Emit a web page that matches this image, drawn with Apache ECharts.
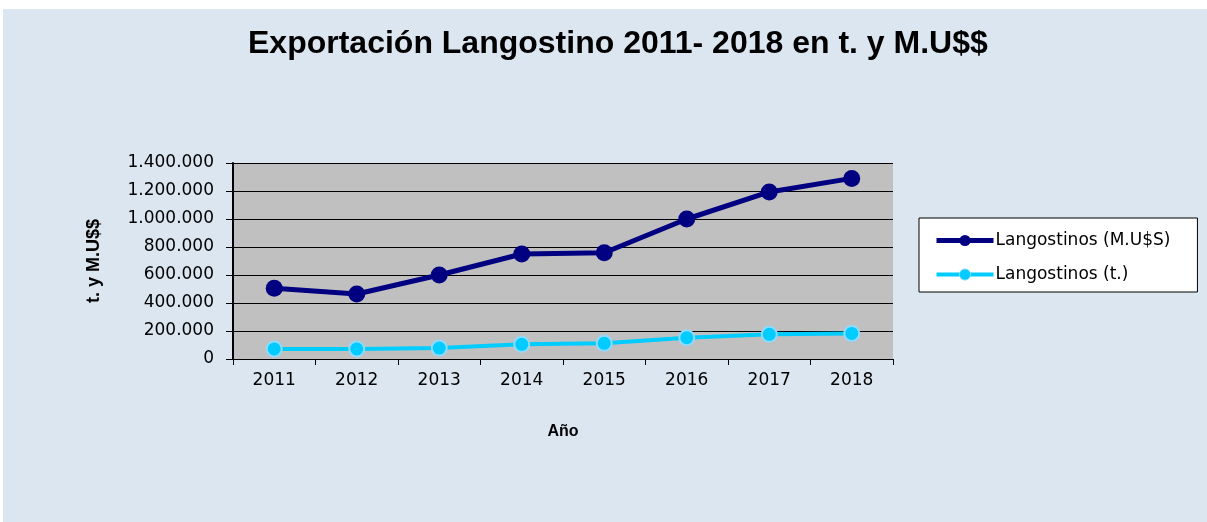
<!DOCTYPE html>
<html>
<head>
<meta charset="utf-8">
<script src="https://cdn.jsdelivr.net/npm/echarts@6/dist/echarts.min.js"></script>
<style>
html,body{margin:0;padding:0;background:#ffffff;}
#chart{position:absolute;left:3px;top:9px;width:1204px;height:513px;background:#DCE6F1;}
</style>
</head>
<body>
<div id="chart"></div>
<script>
const years = ['2011','2012','2013','2014','2015','2016','2017','2018'];
const valorUSD = [505000, 464000, 600000, 750000, 759000, 1000000, 1193000, 1290000];
const toneladas = [72000, 72000, 78000, 105000, 112000, 152000, 176000, 183000];
const seriesNames = ['Langostinos (M.U$S)', 'Langostinos (t.)'];

function fmt(v){ return String(v).replace(/\B(?=(\d{3})+(?!\d))/g, '.'); }

const chart = echarts.init(document.getElementById('chart'));
chart.setOption({
  animation: false,
  backgroundColor: '#DCE6F1',
  title: {
    text: 'Exportación Langostino 2011- 2018 en t. y M.U$$',
    left: 240, top: 14,
    textStyle: { fontFamily: 'Liberation Sans', fontWeight: 'bold', fontSize: 32, color: '#000' }
  },
  legend: {
    orient: 'vertical',
    left: 916, top: 209,
    padding: [14, 27, 9, 15],
    itemGap: 17,
    itemWidth: 57, itemHeight: 14,
    backgroundColor: '#ffffff',
    borderColor: '#000000', borderWidth: 1, borderRadius: 0,
    lineStyle: { width: 5 },
    textStyle: { fontFamily: 'DejaVu Sans', fontSize: 17, color: '#000', padding: [0,0,0,-3] },
    data: [
      { name: seriesNames[0], itemStyle: { color: '#000080' }, lineStyle: { width: 5, color: '#000080' } },
      { name: seriesNames[1], itemStyle: { color: '#00CCFF', borderColor: '#8FDBFF', borderWidth: 1 }, lineStyle: { width: 4, color: '#00CCFF' } }
    ]
  },
  grid: {
    left: 230, top: 154, width: 660, height: 196,
    show: true, backgroundColor: '#C0C0C0', borderWidth: 0
  },
  xAxis: {
    type: 'category',
    data: years,
    boundaryGap: true,
    name: 'Año', nameLocation: 'middle', nameGap: 65,
    nameTextStyle: { fontFamily: 'Liberation Sans', fontWeight: 'bold', fontSize: 16, color: '#000' },
    axisLine: { show: true, lineStyle: { color: '#000', width: 1 } },
    axisTick: { show: true, length: 6, alignWithLabel: false, lineStyle: { color: '#000' } },
    axisLabel: { margin: 13, fontFamily: 'DejaVu Sans', fontSize: 17, color: '#000' },
    splitLine: { show: false }
  },
  yAxis: {
    type: 'value',
    min: 0, max: 1400000, interval: 200000,
    name: 't. y M.U$$', nameLocation: 'middle', nameGap: 130, nameRotate: 90,
    nameTextStyle: { fontFamily: 'Liberation Sans', fontWeight: 'bold', fontSize: 18, color: '#000' },
    axisLine: { show: true, lineStyle: { color: '#000', width: 2 } },
    axisTick: { show: true, length: 7, lineStyle: { color: '#000' } },
    axisLabel: { margin: 19, fontFamily: 'DejaVu Sans', fontSize: 17, color: '#000', formatter: fmt },
    splitLine: { show: true, lineStyle: { color: '#000', width: 1 } }
  },
  series: [
    {
      name: seriesNames[0], type: 'line', data: valorUSD,
      symbol: 'circle', symbolSize: 17,
      itemStyle: { color: '#000080' },
      lineStyle: { color: '#000080', width: 5 },
      z: 3
    },
    {
      name: seriesNames[1], type: 'line', data: toneladas,
      symbol: 'circle', symbolSize: 15,
      itemStyle: { color: '#00CCFF', borderColor: '#8FDBFF', borderWidth: 2 },
      lineStyle: { color: '#00CCFF', width: 4 },
      z: 2
    }
  ]
});
</script>
</body>
</html>
